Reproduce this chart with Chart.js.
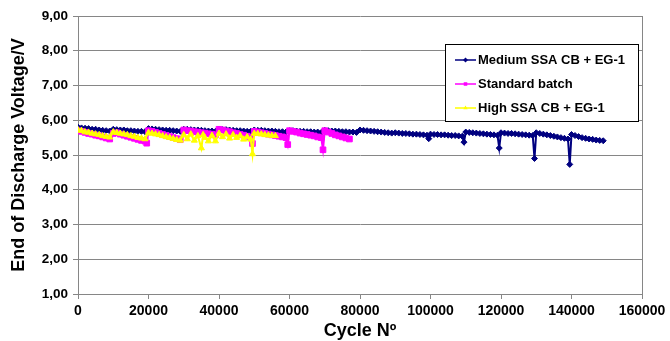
<!DOCTYPE html>
<html>
<head>
<meta charset="utf-8">
<script src="https://cdn.jsdelivr.net/npm/chart.js@4.4.0/dist/chart.umd.min.js"></script>
<style>
  html, body { margin: 0; padding: 0; background: #fff; }
  #wrap { width: 670px; height: 341px; position: relative; }
</style>
</head>
<body>
<div id="wrap"><canvas id="voltChart"></canvas></div>
<script>
// series: [cycle, end of discharge voltage]
const seriesNames = ['Medium SSA CB + EG-1', 'Standard batch', 'High SSA CB + EG-1'];

const mediumSsa = [
    [0, 5.80], [1000, 5.78], [2000, 5.77], [3000, 5.76], [4000, 5.74], [5000, 5.74], [6000, 5.72], [7000, 5.71], [8000, 5.70], [9000, 5.69],
    [10000, 5.74], [11000, 5.73], [12000, 5.72], [13000, 5.72], [14000, 5.70], [15000, 5.70], [16000, 5.69], [17000, 5.68], [18000, 5.68], [19000, 5.67],
    [20000, 5.76], [21000, 5.75], [22000, 5.74], [23000, 5.73], [24000, 5.72], [25000, 5.71], [26000, 5.71], [27000, 5.70], [28000, 5.69], [29000, 5.68],
    [30000, 5.74], [31000, 5.74], [32000, 5.73], [33000, 5.72], [34000, 5.72], [35000, 5.71], [36000, 5.70], [37000, 5.69], [38000, 5.69], [39000, 5.68],
    [40000, 5.74], [41000, 5.73], [42000, 5.73], [43000, 5.72], [44000, 5.71], [45000, 5.70], [46000, 5.70], [47000, 5.69], [48000, 5.68], [49000, 5.68],
    [50000, 5.72], [51000, 5.71], [52000, 5.71], [53000, 5.70], [54000, 5.69], [55000, 5.69], [56000, 5.68], [57000, 5.67], [58000, 5.67], [59000, 5.66],
    [60000, 5.70], [61000, 5.70], [62000, 5.69], [63000, 5.68], [64000, 5.68], [65000, 5.67], [66000, 5.67], [67000, 5.66], [68000, 5.66], [69000, 5.65],
    [70000, 5.71], [71000, 5.70], [72000, 5.69], [73000, 5.69], [74000, 5.68], [75000, 5.67], [76000, 5.67], [77000, 5.66], [78000, 5.66], [79000, 5.65],
    [80000, 5.72], [81000, 5.71], [82000, 5.70], [83000, 5.69], [84000, 5.68], [85000, 5.67], [86000, 5.66], [87000, 5.65], [88000, 5.64], [89000, 5.63],
    [90000, 5.64], [91000, 5.63], [92000, 5.62], [93000, 5.62], [94000, 5.61], [95000, 5.60], [96000, 5.60], [97000, 5.59], [98000, 5.58], [99000, 5.57], [99500, 5.47],
    [100000, 5.60], [101000, 5.59], [102000, 5.59], [103000, 5.58], [104000, 5.58], [105000, 5.57], [106000, 5.56], [107000, 5.56], [108000, 5.55], [109000, 5.54], [109500, 5.37],
    [110000, 5.66], [111000, 5.65], [112000, 5.64], [113000, 5.63], [114000, 5.62], [115000, 5.61], [116000, 5.60], [117000, 5.59], [118000, 5.58], [119000, 5.57], [119500, 5.20],
    [120000, 5.64], [121000, 5.63], [122000, 5.62], [123000, 5.62], [124000, 5.61], [125000, 5.60], [126000, 5.59], [127000, 5.58], [128000, 5.57], [129000, 5.56], [129500, 4.90],
    [130000, 5.64], [131000, 5.62], [132000, 5.60], [133000, 5.58], [134000, 5.56], [135000, 5.54], [136000, 5.52], [137000, 5.50], [138000, 5.48], [139000, 5.46], [139500, 4.73],
    [140000, 5.59], [141000, 5.56], [142000, 5.53], [143000, 5.50], [144000, 5.48], [145000, 5.46], [146000, 5.45], [147000, 5.43], [148000, 5.42], [149000, 5.41]
];

const standardBatch = [
    [0, 5.70], [1000, 5.68], [2000, 5.65], [3000, 5.62], [4000, 5.60], [5000, 5.57], [6000, 5.55], [7000, 5.52], [8000, 5.49], [9000, 5.46],
    [10000, 5.62], [11000, 5.64], [12000, 5.60], [13000, 5.57], [14000, 5.54], [15000, 5.51], [16000, 5.48], [17000, 5.45], [18000, 5.42], [19000, 5.40], [19500, 5.34],
    [20000, 5.70], [21000, 5.68], [22000, 5.65], [23000, 5.62], [24000, 5.59], [25000, 5.56], [26000, 5.53], [27000, 5.50], [28000, 5.47], [29000, 5.44],
    [30000, 5.72], [31000, 5.70], [32000, 5.69], [33000, 5.67], [34000, 5.66], [35000, 5.64], [36000, 5.63], [37000, 5.61], [38000, 5.60], [39000, 5.58],
    [40000, 5.74], [41000, 5.72], [42000, 5.69], [43000, 5.67], [44000, 5.64], [45000, 5.62], [46000, 5.59], [47000, 5.57], [48000, 5.54], [49000, 5.50], [49500, 5.33],
    [50000, 5.68], [51000, 5.66], [52000, 5.64], [53000, 5.62], [54000, 5.60], [55000, 5.58], [56000, 5.56], [57000, 5.54], [58000, 5.52], [59000, 5.50], [59500, 5.30],
    [60000, 5.70], [61000, 5.68], [62000, 5.66], [63000, 5.63], [64000, 5.61], [65000, 5.59], [66000, 5.57], [67000, 5.55], [68000, 5.52], [69000, 5.50], [69500, 5.15],
    [70000, 5.70], [71000, 5.66], [72000, 5.62], [73000, 5.58], [74000, 5.55], [75000, 5.52], [76000, 5.49], [77000, 5.46]
];

const highSsa = [
    [0, 5.72], [1000, 5.70], [2000, 5.66], [3000, 5.65], [4000, 5.62], [5000, 5.60], [6000, 5.58], [7000, 5.55], [8000, 5.53], [9000, 5.51],
    [10000, 5.66], [11000, 5.64], [12000, 5.62], [13000, 5.60], [14000, 5.58], [15000, 5.55], [16000, 5.53], [17000, 5.50], [18000, 5.48], [19000, 5.46],
    [20000, 5.64], [21000, 5.62], [22000, 5.60], [23000, 5.58], [24000, 5.55], [25000, 5.52], [26000, 5.50], [27000, 5.47], [28000, 5.44], [29000, 5.42],
    [30000, 5.58], [31000, 5.46], [32000, 5.60], [33000, 5.42], [34000, 5.55], [35000, 5.20], [35500, 5.58], [36000, 5.50], [37000, 5.40], [38000, 5.56], [39000, 5.40],
    [40000, 5.62], [41000, 5.52], [42000, 5.60], [43000, 5.48], [44000, 5.58], [45000, 5.50], [46000, 5.56], [47000, 5.45], [48000, 5.52], [49000, 5.45], [49500, 5.03],
    [50000, 5.62], [51000, 5.61], [52000, 5.60], [53000, 5.58], [54000, 5.57], [55000, 5.56], [56000, 5.55]
];

const xTickLabels = ['0', '20000', '40000', '60000', '80000', '100000', '120000', '140000', '160000'];
const yTickLabels = ['1,00', '2,00', '3,00', '4,00', '5,00', '6,00', '7,00', '8,00', '9,00'];

const FONT = '"Liberation Sans", Arial, sans-serif';
const GRID = '#868686';

function toPoints(pairs) {
    return pairs.map(p => ({ x: p[0], y: p[1] }));
}

// small marker shapes, same as the line markers
function drawMarker(ctx, style, x, y, r) {
    ctx.beginPath();
    if (style === 'rectRot') {
        ctx.moveTo(x, y - r);
        ctx.lineTo(x + r, y);
        ctx.lineTo(x, y + r);
        ctx.lineTo(x - r, y);
    } else if (style === 'rect') {
        const s = r * Math.SQRT1_2;
        ctx.rect(x - s, y - s, s * 2, s * 2);
    } else {
        ctx.moveTo(x, y - r);
        ctx.lineTo(x + r * 0.87, y + r * 0.5);
        ctx.lineTo(x - r * 0.87, y + r * 0.5);
    }
    ctx.closePath();
    ctx.fill();
}

// right edge of the plot area
const plotFrame = {
    id: 'plotFrame',
    beforeDatasetsDraw(chart) {
        const { ctx, chartArea } = chart;
        ctx.save();
        ctx.strokeStyle = GRID;
        ctx.lineWidth = 1;
        ctx.beginPath();
        ctx.moveTo(Math.round(chartArea.right) + 0.5, chartArea.top);
        ctx.lineTo(Math.round(chartArea.right) + 0.5, chartArea.bottom);
        ctx.stroke();
        ctx.restore();
    }
};

// boxed legend inside the plot, top right
const legendBox = {
    id: 'legendBox',
    afterDraw(chart) {
        const { ctx, chartArea } = chart;
        const w = 193, h = 77;
        const left = Math.round(chartArea.right) - 4 - w;
        const top = Math.round(chartArea.top) + 28;

        ctx.save();
        ctx.fillStyle = '#fff';
        ctx.fillRect(left, top, w, h);
        ctx.strokeStyle = '#000';
        ctx.lineWidth = 1;
        ctx.strokeRect(left + 0.5, top + 0.5, w, h);

        chart.data.datasets.forEach((ds, i) => {
            const cy = top + 16 + i * 24;
            ctx.strokeStyle = ds.borderColor;
            ctx.lineWidth = 1.5;
            ctx.beginPath();
            ctx.moveTo(left + 10, cy);
            ctx.lineTo(left + 31, cy);
            ctx.stroke();
            ctx.fillStyle = ds.pointBackgroundColor;
            drawMarker(ctx, ds.pointStyle, left + 20.5, cy, 2.5);

            ctx.fillStyle = '#000';
            ctx.font = 'bold 13px ' + FONT;
            ctx.textBaseline = 'middle';
            ctx.textAlign = 'left';
            ctx.fillText(ds.label, left + 33, cy);
        });
        ctx.restore();
    }
};

function makeSeries(label, pairs, color, style, radius, order) {
    return {
        label: label,
        data: toPoints(pairs),
        borderColor: color,
        backgroundColor: color,
        pointBackgroundColor: color,
        pointBorderColor: color,
        pointBorderWidth: 1,
        pointStyle: style,
        pointRadius: radius,
        borderWidth: 2,
        tension: 0,
        order: order
    };
}

new Chart(document.getElementById('voltChart'), {
    type: 'line',
    data: {
        datasets: [
            makeSeries(seriesNames[0], mediumSsa, '#000080', 'rectRot', 3, 3),
            makeSeries(seriesNames[1], standardBatch, '#FF00FF', 'rect', 4, 2),
            makeSeries(seriesNames[2], highSsa, '#FFFF00', 'triangle', 3.5, 1)
        ]
    },
    options: {
        responsive: true,
        maintainAspectRatio: false,
        animation: false,
        layout: {
            padding: { top: 16, right: 28, bottom: 0, left: 0 }
        },
        plugins: {
            legend: { display: false },
            tooltip: { enabled: false }
        },
        scales: {
            x: {
                type: 'linear',
                min: 0,
                max: 160000,
                afterFit: scale => { scale.height = 47; },
                grid: {
                    drawOnChartArea: false,
                    drawTicks: true,
                    tickLength: 5,
                    color: GRID
                },
                border: { color: GRID },
                ticks: {
                    stepSize: 20000,
                    maxRotation: 0,
                    autoSkip: false,
                    padding: 4,
                    color: '#000',
                    font: { family: FONT, size: 14, weight: 'bold' },
                    callback: value => xTickLabels[value / 20000]
                },
                title: {
                    display: true,
                    text: 'Cycle Nº',
                    color: '#000',
                    padding: { top: 0, bottom: 0 },
                    font: { family: FONT, size: 18, weight: 'bold', lineHeight: 1.1 }
                }
            },
            y: {
                min: 1,
                max: 9,
                afterFit: scale => { scale.width = 78; },
                grid: {
                    drawTicks: true,
                    tickLength: 5,
                    color: GRID
                },
                border: { color: GRID },
                ticks: {
                    stepSize: 1,
                    padding: 5,
                    color: '#000',
                    font: { family: FONT, size: 13.5, weight: 'bold' },
                    callback: value => yTickLabels[value - 1]
                },
                title: {
                    display: true,
                    text: 'End of Discharge Voltage/V',
                    color: '#000',
                    padding: { top: 8, bottom: 0 },
                    font: { family: FONT, size: 18, weight: 'bold' }
                }
            }
        }
    },
    plugins: [plotFrame, legendBox]
});
</script>
</body>
</html>
